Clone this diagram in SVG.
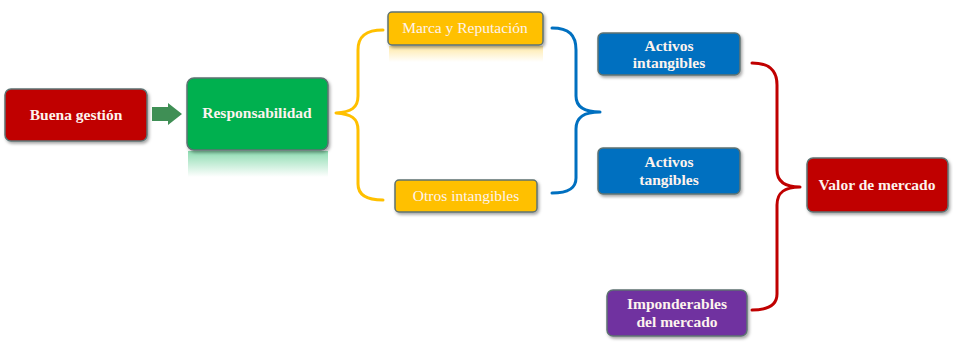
<svg xmlns="http://www.w3.org/2000/svg" width="953" height="346" viewBox="0 0 953 346">
<style>
.box{stroke:#5d7272;stroke-width:1.5}
.t{font-family:"Liberation Serif","Times New Roman",serif;font-weight:bold;fill:#fdf3ee;text-anchor:middle;font-size:15.5px}
.n{font-weight:normal}
.br{fill:none;stroke-width:3;stroke-linecap:round;stroke-linejoin:round}
</style>
<defs>
<filter id="sh" x="-10%" y="-10%" width="125%" height="135%">
<feDropShadow dx="1.5" dy="2" stdDeviation="1.5" flood-color="#000" flood-opacity="0.35"/>
</filter>
<linearGradient id="rg" x1="0" y1="0" x2="0" y2="1">
<stop offset="0" stop-color="#00B050" stop-opacity="0.45"/>
<stop offset="1" stop-color="#00B050" stop-opacity="0"/>
</linearGradient>
<linearGradient id="ry" x1="0" y1="0" x2="0" y2="1">
<stop offset="0" stop-color="#FFC000" stop-opacity="0.35"/>
<stop offset="1" stop-color="#FFC000" stop-opacity="0"/>
</linearGradient>
</defs>
<rect width="953" height="346" fill="#fff"/>
<g id="connectors">
<polygon points="152,107 168,107 168,103 182,114 168,125 168,121 152,121" fill="#3f8f55"/>
<path class="br" stroke="#FFC000" d="M383,30 C366,30 358,36 358,50 L358,96 C358,108 351,112 336,113 C351,114 358,118 358,130 L358,184 C358,195 366,200 383,200"/>
<path class="br" stroke="#0070C0" d="M552,28 C569,28 576,35 576,50 L576,96 C576,107 584,112 600,112 C584,112 576,117 576,129 L576,178 C576,188 569,193 552,193"/>
<path class="br" stroke="#C00000" d="M752,63 C769,63 777,70 777,85 L777,170 C777,182 785,187 800,187 C785,187 777,192 777,205 L777,294 C777,305 769,310 752,310"/>
</g>
<g id="buena">
<rect class="box" x="5" y="89" width="142" height="52" rx="6" fill="#C00000" filter="url(#sh)"/>
<text class="t" x="76" y="120">Buena gestión</text>
</g>
<g id="responsabilidad">
<rect x="188" y="151" width="140" height="26" fill="url(#rg)"/>
<rect class="box" x="187" y="78" width="141" height="72" rx="7" fill="#00B050" filter="url(#sh)"/>
<text class="t" x="257" y="118">Responsabilidad</text>
</g>
<g id="marca">
<rect x="389" y="46" width="154" height="16" fill="url(#ry)"/>
<rect class="box" x="388" y="12" width="155" height="33" rx="4" fill="#FFC000" filter="url(#sh)"/>
<text class="t n" x="465" y="33">Marca y Reputación</text>
</g>
<g id="otros">
<rect class="box" x="395" y="180" width="142" height="32" rx="4" fill="#FFC000" filter="url(#sh)"/>
<text class="t n" x="466" y="201">Otros intangibles</text>
</g>
<g id="activos-intangibles">
<rect class="box" x="598" y="33" width="142" height="42" rx="5" fill="#0070C0" filter="url(#sh)"/>
<text class="t" x="669" y="51">Activos</text>
<text class="t" x="669" y="68">intangibles</text>
</g>
<g id="activos-tangibles">
<rect class="box" x="598" y="148" width="142" height="46" rx="5" fill="#0070C0" filter="url(#sh)"/>
<text class="t" x="669" y="167">Activos</text>
<text class="t" x="669" y="185">tangibles</text>
</g>
<g id="valor">
<rect class="box" x="807" y="158" width="141" height="54" rx="6" fill="#C00000" filter="url(#sh)"/>
<text class="t" x="877" y="190">Valor de mercado</text>
</g>
<g id="imponderables">
<rect class="box" x="607" y="290" width="140" height="46" rx="6" fill="#7030A0" filter="url(#sh)"/>
<text class="t" x="677" y="309">Imponderables</text>
<text class="t" x="677" y="327">del mercado</text>
</g>
</svg>
